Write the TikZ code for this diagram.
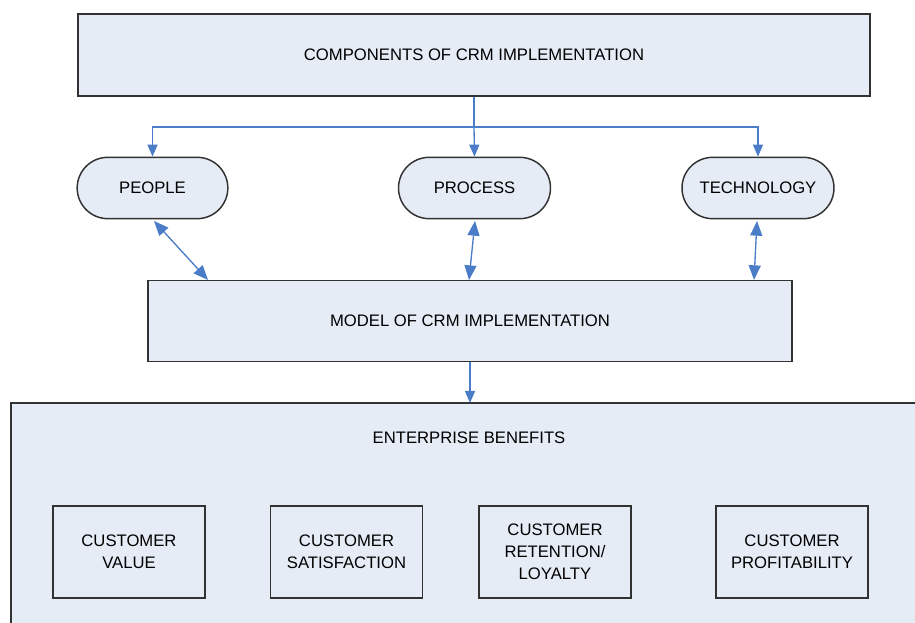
\documentclass[tikz,border=0pt]{standalone}
\usepackage{fontspec}
\setmainfont{Liberation Sans}
\usetikzlibrary{arrows.meta,shapes.misc}
\definecolor{boxfill}{RGB}{230,236,246}
\definecolor{arrowblue}{RGB}{74,124,200}
\definecolor{edge}{RGB}{50,50,50}
\tikzset{
  box/.style={draw=edge,line width=1.1pt,fill=boxfill,inner sep=0pt,font=\fontsize{12.5}{16.5}\selectfont},
  pill/.style={box,rounded rectangle},
  conn/.style={draw=arrowblue,line width=1pt,-{Triangle[length=9pt,width=7.5pt]}},
  dconn/.style={draw=arrowblue,line width=1pt,{Triangle[length=11pt,width=9pt]}-{Triangle[length=11pt,width=9pt]}},
}
\begin{document}
\begin{tikzpicture}[x=0.75pt,y=-0.75pt]
\useasboundingbox (0,0) rectangle (915,623);
% enterprise box (extends beyond frame)
\path[box] (11,403) rectangle (925,633);
\node[font=\fontsize{12.5}{15}\selectfont] (eb) at (469,438) {ENTERPRISE BENEFITS};
\coordinate (ebtop) at (470,403);
% top
\node[box,minimum width=594pt,minimum height=61.5pt] (top) at (474,55) {COMPONENTS OF CRM IMPLEMENTATION};
% pills
\node[pill,minimum width=113pt,minimum height=46pt] (people) at (152.5,188) {PEOPLE};
\node[pill,minimum width=114pt,minimum height=46pt] (process) at (474.5,188) {PROCESS};
\node[pill,minimum width=114pt,minimum height=46pt] (tech) at (758,188) {TECHNOLOGY};
% model
\node[box,minimum width=483pt,minimum height=61pt] (model) at (470,321) {MODEL OF CRM IMPLEMENTATION};
% benefit boxes
\node[box,minimum width=114pt,minimum height=69pt,align=center] (cv) at (129,552) {CUSTOMER\\VALUE};
\node[box,minimum width=114pt,minimum height=69pt,align=center] (cs) at (346.5,552) {CUSTOMER\\SATISFACTION};
\node[box,minimum width=114pt,minimum height=69pt,align=center] (cr) at (555,552) {CUSTOMER\\RETENTION/\\LOYALTY};
\node[box,minimum width=114pt,minimum height=69pt,align=center] (cp) at (792,552) {CUSTOMER\\PROFITABILITY};
% connectors
\coordinate (bar) at (474,127);
\coordinate (pa) at (154,221);
\coordinate (pb) at (208,280);
\coordinate (ra) at (475,221);
\coordinate (rb) at (469,280);
\coordinate (ta) at (757,221);
\coordinate (tb) at (754,280);
\draw[draw=arrowblue,line width=1pt] (top.south) -- (bar);
\draw[conn] (bar) -- (process.north);
\draw[conn] (bar) -| (people.north);
\draw[conn] (bar) -| (tech.north);
\draw[dconn] (pa) -- (pb);
\draw[dconn] (ra) -- (rb);
\draw[dconn] (ta) -- (tb);
\draw[conn] (model.south -| ebtop) -- (ebtop);
\end{tikzpicture}
\end{document}
